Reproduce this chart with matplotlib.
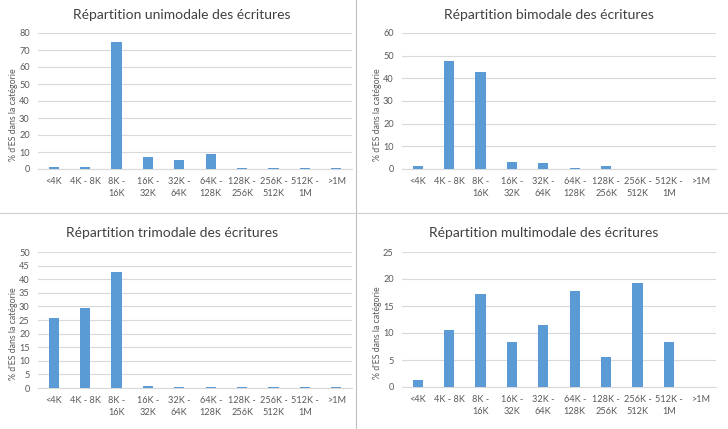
import matplotlib.pyplot as plt
import numpy as np

plt.rcParams['font.family'] = ['Lato', 'DejaVu Sans']

categories = ['<4K', '4K - 8K', '8K -\n16K', '16K -\n32K', '32K -\n64K', '64K -\n128K',
              '128K -\n256K', '256K -\n512K', '512K -\n1M', '>1M']

unimodal = [1.0, 1.0, 74.7, 7.0, 5.3, 9.0, 0.3, 0.3, 0.3, 0.3]
bimodal = [1.2, 47.6, 43.0, 3.1, 2.7, 0.4, 1.5, 0, 0, 0]
trimodal = [25.7, 29.4, 42.8, 0.9, 0.3, 0.3, 0.3, 0.3, 0.3, 0.3]
multimodal = [1.3, 10.5, 17.2, 8.3, 11.5, 17.75, 5.6, 19.2, 8.4, 0]

titles = ['Répartition unimodale des écritures', 'Répartition bimodale des écritures',
          'Répartition trimodale des écritures', 'Répartition multimodale des écritures']

W, H = 728, 429
fig = plt.figure(figsize=(W / 100, H / 100), dpi=100)

bar_color = '#5B9BD5'
grid_color = '#D9D9D9'
text_color = '#595959'

# (data, ymax, step, left px, zero px, top px, title x, title y)
panels = [
    (unimodal, 80, 10, 38, 169, 33, 182, 15),
    (bimodal, 60, 10, 402, 169, 33, 549, 15),
    (trimodal, 50, 5, 38, 388, 252, 172, 233),
    (multimodal, 25, 5, 402, 387, 252, 544, 233),
]

axw = 314
for (vals, ymax, step, left, zero, top, tx, ty), title in zip(panels, titles):
    ax = fig.add_axes([left / W, (H - zero) / H, axw / W, (zero - top) / H])
    x = np.arange(len(categories))
    ax.bar(x, vals, width=0.32, color=bar_color, zorder=3)
    ax.set_xlim(-0.5, len(categories) - 0.5)
    ax.set_ylim(0, ymax)
    ax.set_yticks(np.arange(0, ymax + step, step))
    ax.yaxis.grid(True, color=grid_color, linewidth=0.8, zorder=0)
    ax.set_xticks(x)
    ax.set_xticklabels(categories, fontsize=6.6, color=text_color, linespacing=1.35)
    ax.tick_params(axis='y', labelsize=6.6, labelcolor=text_color, length=0, pad=6)
    ax.tick_params(axis='x', length=0, pad=6)
    for s in ['top', 'right', 'left']:
        ax.spines[s].set_visible(False)
    ax.spines['bottom'].set_color(grid_color)
    ax.set_ylabel("% d'ES dans la catégorie", fontsize=6.3, color=text_color)
    ax.yaxis.set_label_coords(-20 / axw, 0.4)
    ax.set_facecolor('none')
    fig.text(tx / W, 1 - ty / H, title, ha='center', va='center', fontsize=10, color='#404040')

# separators between the four charts
fig.add_artist(plt.Line2D([356 / W, 356 / W], [0, 1], color='#BFBFBF', linewidth=0.8))
fig.add_artist(plt.Line2D([0, 1], [1 - 213 / H, 1 - 213 / H], color='#D0D0D0', linewidth=0.8))

fig.savefig('out.png', dpi=100)
